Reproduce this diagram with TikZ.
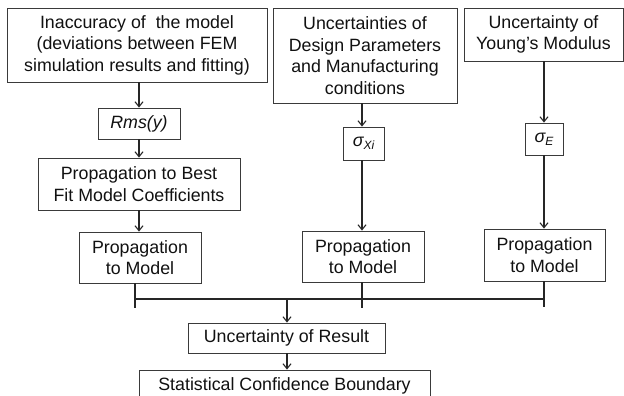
\documentclass[tikz,border=0pt]{standalone}
\usepackage{fontspec}
\setmainfont{Liberation Sans}
\usetikzlibrary{arrows.meta}
\definecolor{txt}{HTML}{111111}
\definecolor{frame}{HTML}{3A3A3A}
\tikzset{
  box/.style={draw=frame, line width=0.8pt, fill=white, inner sep=0pt, align=center,
    text=txt, font=\fontsize{17.8}{21.5}\selectfont},
  arr/.style={draw=black!85, line width=1.3pt, -{Straight Barb[length=5pt,width=8pt,line width=1.1pt]}},
  thickarr/.style={arr, line width=1.8pt},
  bus/.style={draw=black!85, line width=1.8pt},
}
\begin{document}
\begin{tikzpicture}[x=1pt,y=-1pt]
\useasboundingbox (0,0) rectangle (624,396);
\clip (0,0) rectangle (624,396);
% top boxes
\node[box, minimum width=260pt, minimum height=74pt] (inacc) at (137,45)
  {Inaccuracy of\ \ the model\\(deviations between FEM\\simulation results and fitting)};
\node[box, minimum width=184pt, minimum height=95pt] (design) at (365,55.5)
  {Uncertainties of\\Design Parameters\\and Manufacturing\\conditions};
\node[box, minimum width=159pt, minimum height=53pt] (young) at (543.5,34.5)
  {Uncertainty of\\Young’s Modulus};
% sigma / rms boxes
\node[box, minimum width=82pt, minimum height=31pt] (rms) at (139,123.5) {\itshape Rms(y)};
\node[box, minimum width=41pt, minimum height=33pt] (sx) at (363.5,143.5)
  {\itshape σ\raisebox{-0.35ex}{\fontsize{12}{12}\selectfont Xi}};
\node[box, minimum width=38pt, minimum height=32pt] (se) at (544,139)
  {\itshape σ\raisebox{-0.35ex}{\fontsize{12}{12}\selectfont E}};
% propagation boxes
\node[box, minimum width=202pt, minimum height=52pt] (best) at (139,184)
  {Propagation to Best\\Fit Model Coefficients};
\node[box, minimum width=122pt, minimum height=51pt] (p1) at (140,257.5)
  {Propagation\\to Model};
\node[box, minimum width=122pt, minimum height=51pt] (p2) at (363,256.5)
  {Propagation\\to Model};
\node[box, minimum width=121pt, minimum height=52pt] (p3) at (544.5,255)
  {Propagation\\to Model};
% result boxes
\node[box, minimum width=197pt, minimum height=30pt] (res) at (286.5,338)
  {Uncertainty of Result};
\node[box, minimum width=291pt, minimum height=36pt, text depth=0pt] (stat) at (284.5,388)
  {\raisebox{7pt}{Statistical Confidence Boundary}};
% connectors
\draw[arr] (rms.north |- inacc.south) -- (rms.north);
\draw[arr] (rms.south) -- (best.north);
\draw[arr] (best.south) -- (best.south |- p1.north);
\draw[arr] (362,0 |- design.south) -- (362,0 |- sx.north);
\draw[arr] (se.north |- young.south) -- (se.north);
\draw[thickarr] (362,0 |- sx.south) -- (362,0 |- p2.north);
\draw[thickarr] (se.south) -- (se.south |- p3.north);
% bus
\coordinate (d1) at (135,308);
\coordinate (d2) at (362,308);
\coordinate (d3) at (544,307);
\coordinate (bl) at (135,299);
\coordinate (br) at (544,299);
\coordinate (bm) at (287,299);
\draw[bus] (d1 |- p1.south) -- (d1);
\draw[bus] (d2 |- p2.south) -- (d2);
\draw[bus] (d3 |- p3.south) -- (d3);
\draw[bus] (bl) -- (br);
\draw[arr] (bm) -- (bm |- res.north);
\draw[arr] (bm |- res.south) -- (bm |- stat.north);
\end{tikzpicture}
\end{document}
